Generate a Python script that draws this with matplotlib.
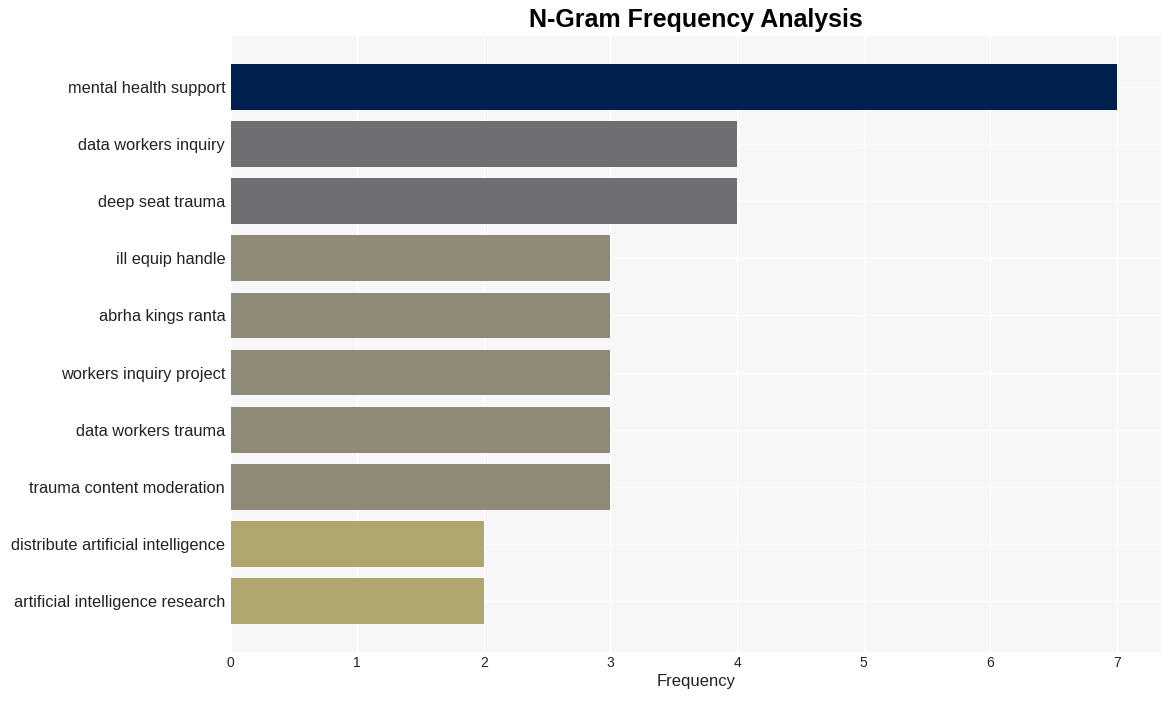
import matplotlib
matplotlib.use('Agg')
import matplotlib.pyplot as plt

plt.rcParams['font.family'] = ['Liberation Sans', 'DejaVu Sans']

# n-grams and their counts, top to bottom
ngrams = [
    'mental health support',
    'data workers inquiry',
    'deep seat trauma',
    'ill equip handle',
    'abrha kings ranta',
    'workers inquiry project',
    'data workers trauma',
    'trauma content moderation',
    'distribute artificial intelligence',
    'artificial intelligence research',
]
counts = [7, 4, 4, 3, 3, 3, 3, 3, 2, 2]
colors = ['#00214d', '#6e6e73', '#6e6e73', '#8f8a78', '#8f8a78',
          '#8f8a78', '#8f8a78', '#8f8a78', '#b0a66f', '#b0a66f']

fig = plt.figure(figsize=(11.71, 7.01), dpi=100)
ax = fig.add_axes([0.197, 0.070, 0.7945, 0.8786])
ax.set_facecolor('#f7f7f7')

y = list(range(len(ngrams)))
ax.barh(y, counts, height=0.8, color=colors, zorder=2)

ax.set_yticks(y)
ax.set_yticklabels(ngrams, fontsize=11.8, color='#222222')
ax.set_ylim(len(ngrams) - 1 + 0.89, -0.89)
ax.set_xlim(0, 7.35)
ax.set_xticks(range(8))
ax.tick_params(axis='x', labelsize=10, length=0, pad=3, colors='#222222')
ax.tick_params(axis='y', length=0, pad=4)

ax.grid(True, color='white', linewidth=1, zorder=0)
ax.set_axisbelow(True)
for s in ax.spines.values():
    s.set_visible(False)

ax.set_xlabel('Frequency', fontsize=12, color='#222222', labelpad=3)
fig.suptitle('N-Gram Frequency Analysis', fontsize=18, fontweight='bold', x=0.594, y=0.988)

fig.savefig('out.png', dpi=100)
